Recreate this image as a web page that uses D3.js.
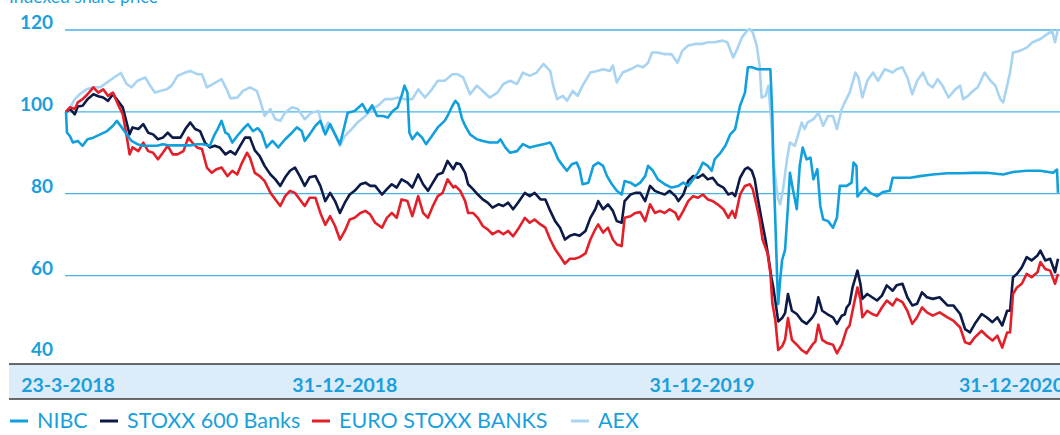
<!DOCTYPE html>
<html>
<head>
<meta charset="utf-8">
<script src="https://cdn.jsdelivr.net/npm/d3@7"></script>
<style>
  body { margin: 0; background: #fff; }
  svg { display: block; font-family: Lato, "Open Sans", sans-serif; }
</style>
</head>
<body>
<div id="chart"></div>
<script>
// day offsets are days since 23-3-2018, values are the indexed share price
var seriesNames = ["NIBC", "STOXX 600 Banks", "EURO STOXX BANKS", "AEX"];
var tickDates = ["2018-03-23", "2018-12-31", "2019-12-31", "2020-12-31"];
var tickLabels = ["23-3-2018", "31-12-2018", "31-12-2019", "31-12-2020"];
var yTicks = [40, 60, 80, 100, 120];
var gridValues = [60, 80, 100, 120];

var nibc = [[0,100],[1,94.9],[4,94.1],[7,92.5],[12,92.9],[17,91.7],[22,93.3],[28,93.7],[35,94.5],[42,95.3],
  [48,96.6],[52,97.8],[57,96.2],[62,94.5],[67,92.9],[73,92.1],[79,91.7],[86,91.7],[93,91.7],[99,92.1],
  [106,91.8],[113,91.8],[120,91.8],[127,91.8],[134,92.1],[140,92.1],[147,91.7],[152,94.5],[155,95.8],[159,97.8],
  [163,94.9],[166,94.5],[170,92.5],[175,94.1],[181,95.8],[186,97],[191,95.3],[196,96],[200,94.9],[205,91.3],
  [211,92.9],[217,91.3],[224,93.3],[231,94.9],[236,96.2],[241,95.3],[244,92.9],[249,94.5],[255,96.6],[260,97.8],
  [265,94.5],[270,97],[275,94.5],[280,92.1],[283,94.9],[288,99.8],[295,100.2],[303,101.9],[308,99.8],[313,101.6],
  [318,99],[324,99],[329,98.6],[334,100.2],[339,101.1],[343,103.9],[346,106.4],[349,104.7],[351,94.9],[354,93.3],
  [359,94.9],[364,93.7],[368,92.1],[374,94.1],[380,96.2],[387,97.8],[390,99],[395,101.5],[398,102.7],[401,101.9],
  [405,98.2],[408,96.6],[413,94.5],[420,93.3],[426,92.9],[433,92.5],[441,92.5],[444,93.3],[449,91.3],[454,90],
  [461,90.4],[467,92.1],[474,91.3],[481,91.7],[488,92.1],[495,92.5],[498,91.3],[503,88.4],[508,86.8],[512,85.6],
  [517,87.2],[522,87.6],[525,86],[528,82.3],[534,82.7],[539,86.8],[544,87.6],[549,86.8],[553,84.3],[558,82.3],
  [563,80.7],[568,79.8],[571,83.1],[577,82.7],[582,81.9],[587,82.7],[592,84.3],[595,86.8],[600,85.6],[605,83.5],
  [612,82.3],[619,81.5],[626,81.9],[631,82.7],[636,81.9],[641,83.5],[646,85.1],[651,87.6],[656,86.8],[660,85.6],
  [663,88.4],[669,90],[674,91.7],[679,94.5],[684,95.8],[689,101.5],[694,104.7],[697,110.9],[701,110.9],[707,110.4],
  [715,110.4],[720,110.4],[722,99],[723,87.6],[725,73.7],[727,58.9],[728,53],[730,58.9],[732,63.8],[735,66.3],
  [738,77],[740,85.1],[743,81.1],[747,76.2],[750,86.8],[753,91.3],[757,88.4],[761,88.8],[764,83.5],[768,86],
  [771,77],[774,73.7],[779,73.3],[784,71.7],[788,74.1],[791,81.9],[798,81.9],[803,82.7],[805,87.6],[808,86.8],
  [809,79.3],[812,80.2],[817,81.5],[822,80.2],[829,79.4],[835,80.4],[842,80.7],[845,83.9],[853,83.9],[863,83.9],
  [873,84.3],[886,84.7],[901,85],[914,85],[927,85.1],[941,85.1],[958,84.7],[968,85.3],[982,85.6],[996,85.6],
  [1009,85.1],[1013,85.9],[1014,80.2]];

var stoxx600 = [[0,100],[4,100.7],[9,99.4],[12,101.3],[17,101.5],[22,103.1],[28,104.3],[33,103.8],[38,103.5],[43,102.7],
  [48,104.3],[53,102.7],[58,101.1],[62,97.4],[65,94.5],[68,96.2],[74,95.8],[79,97],[84,94.9],[89,94.5],
  [94,93.3],[99,93.7],[104,94.9],[109,93.7],[117,93.7],[122,95.8],[127,97.4],[132,95.8],[137,95.3],[142,92.5],
  [147,91.3],[152,91.7],[157,91.3],[163,89.6],[168,90.4],[173,89.6],[178,91.7],[183,93.7],[188,93.7],[193,90.6],
  [198,89.2],[203,86.8],[209,84.7],[214,83.5],[219,81.9],[224,84],[229,85.6],[234,86.4],[239,84.3],[244,81.9],
  [249,84],[255,84.3],[260,81.9],[265,78.2],[270,80.2],[275,78.2],[280,75.3],[285,77.8],[290,79.8],[295,80.7],
  [301,82.3],[306,82.7],[311,81.9],[316,81.9],[323,79.8],[328,81.1],[333,82.3],[338,81.5],[343,83.5],[349,82.7],
  [354,81.5],[360,84.7],[365,82.3],[370,80.7],[375,82.7],[380,84.7],[385,85.1],[390,88],[396,86],[399,87.5],
  [403,87.2],[408,85.1],[411,82.3],[416,81.1],[421,79.8],[426,78.6],[431,77.8],[436,76.6],[442,77.4],[447,77],
  [452,77.8],[457,76.2],[462,77.8],[469,80.2],[474,79.4],[479,80.2],[485,78.6],[490,78.6],[495,75.8],[500,73.3],
  [505,71.7],[510,68.8],[515,69.7],[520,70.1],[525,69.7],[531,70.9],[536,74.1],[541,76.2],[544,78.2],[549,76.2],
  [554,77.4],[559,75.8],[563,73.3],[568,72.9],[571,78.2],[577,79.8],[582,80.2],[587,80.2],[592,78.2],[597,81.9],
  [602,80.7],[607,80.2],[612,79.8],[617,80.7],[623,79.4],[626,78.2],[631,79.8],[636,83.1],[641,84.3],[646,83.9],
  [651,84.7],[656,83.5],[661,83.9],[666,82.3],[672,81.5],[677,79.8],[681,80.2],[684,79.4],[689,83.9],[694,86],
  [697,86.4],[701,85.6],[704,83.5],[707,79],[711,73.7],[715,68.8],[718,64.5],[721,59.6],[723,57.1],[726,52.2],
  [728,48.8],[732,49.6],[735,50.8],[738,55.5],[742,51.4],[747,50.6],[752,49],[757,48.2],[763,49.8],[766,51],
  [769,54.7],[773,51.4],[778,50.6],[784,49.8],[788,48.2],[793,50.2],[796,50.5],[798,52.2],[801,53.1],[804,57.1],
  [809,61.2],[812,58],[814,54.3],[819,55.5],[824,54.7],[829,53.9],[834,55.1],[839,57.6],[845,56.3],[849,57.6],
  [855,58],[860,54.7],[865,52.7],[870,53.1],[875,55.9],[880,54.7],[886,54.3],[893,54.7],[901,52.7],[907,52.7],
  [914,50.6],[919,46.9],[924,46.1],[929,48.2],[936,50.6],[941,49.8],[947,48.6],[952,49.8],[957,47.8],[962,51.4],
  [965,51.4],[968,59.6],[972,60.4],[977,62],[982,64.5],[987,63.7],[993,64.9],[996,66.1],[1001,63.7],[1006,64.1],
  [1011,60.8],[1014,64.1]];

var euroStoxx = [[0,100],[4,101.1],[9,100.7],[12,102.3],[17,103.1],[22,104.3],[28,106],[33,104.7],[38,105.5],[43,103.9],
  [48,104.7],[53,101.9],[58,99.4],[62,94.1],[65,89.6],[68,91.3],[74,90.4],[79,92.5],[84,90.4],[89,90],
  [94,88.4],[99,90],[104,91.7],[109,89.6],[114,89.6],[120,90.4],[125,93.7],[129,92.5],[134,91.3],[139,90.9],
  [144,86.4],[149,85.1],[154,86],[159,86.4],[165,84.3],[170,85.6],[175,84.7],[180,87.6],[185,90],[188,88.8],
  [193,85.1],[198,84.3],[203,83.1],[209,80.2],[214,78.6],[219,77],[224,79.4],[229,80.7],[234,80.2],[239,78.6],
  [244,77],[249,79],[255,79],[260,75.3],[265,72.4],[270,74.5],[275,72.1],[280,68.8],[285,70.9],[290,73.7],
  [295,74.1],[301,75.3],[306,75.8],[311,74.9],[316,72.9],[323,71.7],[328,74.1],[333,75.3],[338,74.1],[343,78.6],
  [349,78.2],[354,74.5],[360,79.4],[365,75.3],[370,74.1],[375,77],[380,79.4],[385,80.2],[390,83.5],[396,81.5],
  [398,81.9],[403,80.7],[408,78.2],[411,75.3],[416,75.3],[421,74.1],[426,72.1],[431,71.3],[436,70.1],[442,70.9],
  [447,70.1],[452,70.9],[457,69.6],[462,71.3],[469,74.1],[474,72.9],[479,73.7],[485,72.5],[490,71.7],[495,68.8],
  [500,66.4],[505,64.7],[510,62.9],[515,64.1],[520,64.1],[525,64.5],[531,65.4],[536,68.8],[541,71.3],[544,72.5],
  [549,70.5],[554,71.7],[559,68.8],[563,67.6],[568,67.2],[571,74.1],[577,74.5],[582,75.3],[587,75.5],[592,73.3],
  [597,77.4],[602,75.3],[607,75.8],[612,75.3],[617,76.2],[623,75.3],[626,73.7],[631,75.8],[636,78.2],[641,79.4],
  [646,79],[651,79.8],[656,78.6],[661,78.2],[666,77.4],[672,76.2],[677,74.1],[681,75.8],[684,74.1],[689,79.8],
  [694,81.9],[699,82.3],[702,81.1],[706,77],[709,73.7],[712,68.8],[717,65.5],[720,60.6],[722,53.3],[725,49.2],
  [728,41.8],[732,42.7],[735,44.3],[738,49.6],[742,44.3],[747,43.1],[752,41.8],[757,41],[763,43.1],[766,43.9],
  [769,48],[773,44.3],[778,43.5],[784,43.1],[788,41],[793,43.1],[798,46.9],[801,47.8],[804,51.4],[809,57.1],
  [812,54.3],[814,49.8],[819,51.4],[824,50.6],[829,50.2],[834,52.2],[839,53.9],[845,52.7],[849,54.3],[855,53.5],
  [860,51.4],[865,48.2],[870,49.8],[875,52.2],[880,51],[886,50.2],[893,51],[901,49.8],[907,49],[914,47.3],
  [919,43.7],[924,43.3],[929,44.9],[936,46.5],[941,45.3],[947,44.1],[952,45.3],[957,42.4],[962,46.1],[965,46.1],
  [968,55.5],[972,57.1],[977,58],[982,60.4],[987,59.6],[993,60.8],[996,63.3],[1001,61.6],[1006,61.2],[1011,58],
  [1014,60.4]];

var aex = [[0,100],[4,101],[9,103.1],[14,104.3],[21,105.5],[28,106],[35,106],[42,107.2],[48,108.2],[56,109.5],
  [62,106.8],[67,106],[73,107.6],[81,108.4],[86,106.4],[91,104.7],[96,105.1],[103,105.5],[108,106.4],[114,108.8],
  [122,109.6],[127,110],[134,109.2],[139,109.2],[144,106],[150,106.8],[159,108],[165,105.1],[168,103.3],[175,103.5],
  [181,105.1],[188,106],[195,105.1],[198,103.1],[203,99],[209,100.7],[214,98.2],[219,97.8],[224,99.8],[231,101.1],
  [237,100.7],[244,98.2],[251,99.8],[258,100.2],[263,95.3],[268,97.4],[275,94.5],[280,91.7],[285,94.1],[292,95.8],
  [298,97.4],[306,99],[313,100.7],[319,101.5],[326,103.1],[333,103.1],[339,103.5],[347,103.1],[354,103.1],[360,105.5],
  [367,103.5],[374,105.5],[380,107.6],[387,107.6],[395,109.2],[400,109.2],[406,108.4],[413,104.3],[420,106.4],[426,105.1],
  [433,103.5],[441,104.7],[447,106.8],[454,107.6],[461,106.8],[467,109.6],[474,108.8],[481,109.6],[488,111.7],[495,110],
  [498,106.4],[502,103.1],[508,103.9],[512,102.7],[518,105.1],[523,103.9],[528,106.4],[536,109.6],[543,110],[549,110.4],
  [556,110],[559,111.3],[563,107.2],[569,109.6],[577,110.4],[584,111.3],[590,110.9],[595,112],[599,114.5],[605,114.5],
  [612,114.1],[619,114.1],[625,112],[630,114.9],[636,116.2],[643,116.6],[650,116.6],[656,117],[663,117],[671,117.4],
  [676,117],[682,113.3],[686,115.3],[691,118.2],[696,119.8],[699,120.2],[702,119.4],[706,116.2],[709,111.3],[711,103.5],
  [715,103.9],[718,106.4],[722,94.1],[723,88.4],[726,81.9],[728,78.6],[730,77.4],[733,81.1],[737,88.4],[740,92.5],
  [745,91.7],[749,94.9],[752,97.4],[755,95.8],[758,97.4],[764,98.2],[769,99.8],[774,96.6],[779,99],[784,99],
  [788,95.8],[793,100.7],[796,102.3],[801,104.7],[807,109.6],[810,108.4],[814,103.5],[819,107.6],[825,109.6],[830,107.6],
  [837,110.4],[845,109.6],[849,110.4],[855,110.9],[860,108.4],[865,104.3],[870,107.6],[876,109.6],[881,106.8],[886,106],
  [891,108],[896,106.4],[902,103.5],[909,105.5],[914,106.4],[917,103.1],[922,103.9],[927,105.1],[932,106],[939,109.6],
  [945,107.6],[950,106.4],[955,103.1],[958,102.3],[962,106.4],[965,109.6],[968,114.5],[975,114.9],[982,115.7],[988,117],
  [996,117.8],[1003,119],[1008,119.8],[1011,117],[1014,120.2]];

var seriesData = [nibc, stoxx600, euroStoxx, aex];
var seriesColors = ["#12a0dc", "#0b1a47", "#e3202a", "#a8d4f2"];
var drawOrder = [3, 1, 2, 0];

var width = 1060, height = 435;
var textBlue = "#1a9fdc";
var startDate = new Date(2018, 2, 23);
var parseDate = d3.timeParse("%Y-%m-%d");

var x = d3.scaleTime()
  .domain([startDate, parseDate(tickDates[tickDates.length - 1])])
  .range([66, 1058]);

var y = d3.scaleLinear()
  .domain([40, 120])
  .range([357.4, 30]);

var svg = d3.select("#chart").append("svg")
  .attr("width", width)
  .attr("height", height);

// title, cut off at top edge like the original
svg.append("text")
  .attr("x", 9)
  .attr("y", 2.5)
  .attr("fill", textBlue)
  .style("font-size", "17.5px")
  .text("Indexed share price");

// gridlines
svg.append("g").selectAll("line")
  .data(gridValues)
  .enter().append("line")
  .attr("x1", 65)
  .attr("x2", width)
  .attr("y1", function(d) { return y(d); })
  .attr("y2", function(d) { return y(d); })
  .attr("stroke", "#45b5e6")
  .attr("stroke-width", 1.3);

// y labels sit on the gridline
svg.append("g").selectAll("text")
  .data(yTicks)
  .enter().append("text")
  .attr("x", 53)
  .attr("y", function(d) { return y(d) - 1; })
  .attr("text-anchor", "end")
  .attr("fill", textBlue)
  .style("font-size", "19px")
  .style("font-weight", "bold")
  .text(function(d) { return d; });

// date band
svg.append("rect")
  .attr("x", 9)
  .attr("y", 364)
  .attr("width", width - 9)
  .attr("height", 35)
  .attr("fill", "#dcecf8");

svg.selectAll(".bandline")
  .data([364, 399])
  .enter().append("line")
  .attr("x1", 9)
  .attr("x2", width)
  .attr("y1", function(d) { return d; })
  .attr("y2", function(d) { return d; })
  .attr("stroke", "#3a3a3a")
  .attr("stroke-width", 1.5);

svg.append("g").selectAll("text")
  .data(tickDates)
  .enter().append("text")
  .attr("x", function(d, i) { return i == tickDates.length - 1 ? width + 4 : x(parseDate(d)) + 2; })
  .attr("y", 392)
  .attr("text-anchor", function(d, i) { return i == tickDates.length - 1 ? "end" : "middle"; })
  .attr("fill", textBlue)
  .style("font-size", "19.5px")
  .style("font-weight", "bold")
  .text(function(d, i) { return tickLabels[i]; });

// lines
var line = d3.line()
  .x(function(d) { return x(d3.timeDay.offset(startDate, d[0])); })
  .y(function(d) { return y(d[1]); });

svg.append("g").selectAll("path")
  .data(drawOrder)
  .enter().append("path")
  .attr("d", function(i) { return line(seriesData[i]); })
  .attr("fill", "none")
  .attr("stroke", function(i) { return seriesColors[i]; })
  .attr("stroke-width", 2.6)
  .attr("stroke-linejoin", "round");

// legend (swatch positions)
var legendX = [10, 100, 312, 571];
var legend = svg.append("g");
seriesNames.forEach(function(name, i) {
  legend.append("line")
    .attr("x1", legendX[i])
    .attr("x2", legendX[i] + 18)
    .attr("y1", 421)
    .attr("y2", 421)
    .attr("stroke", seriesColors[i])
    .attr("stroke-width", 3);
  legend.append("text")
    .attr("x", legendX[i] + 27)
    .attr("y", 428)
    .attr("fill", textBlue)
    .style("font-size", "21.5px")
    .text(name);
});
</script>
</body>
</html>
